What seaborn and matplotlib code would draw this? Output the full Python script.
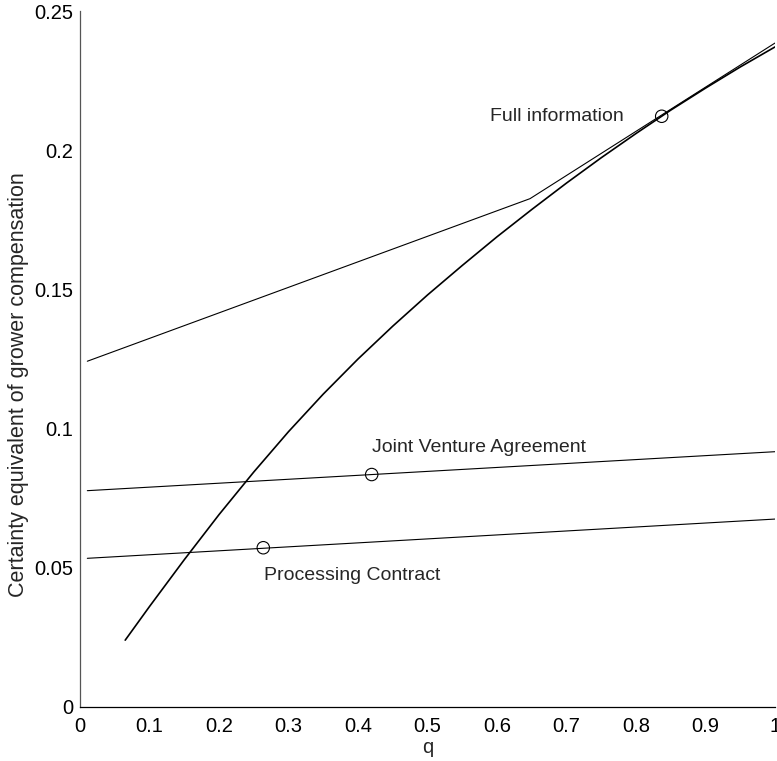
import numpy as np
import pandas as pd
import matplotlib
matplotlib.use("Agg")
import matplotlib.pyplot as plt
from matplotlib.ticker import FuncFormatter
import seaborn as sns

# values
q_full = [0.065, 0.10, 0.15, 0.20, 0.25, 0.30, 0.35, 0.40, 0.45, 0.50,
          0.55, 0.60, 0.65, 0.70, 0.75, 0.80, 0.85, 0.90, 0.95, 1.00]
ce_full = [0.0240, 0.0361, 0.0529, 0.0691, 0.0844, 0.0989, 0.1124, 0.1250,
           0.1368, 0.1480, 0.1586, 0.1689, 0.1787, 0.1882, 0.1973, 0.2060,
           0.2144, 0.2223, 0.2299, 0.2371]

q_kink = [0.0105, 0.6475, 1.0]
ce_kink = [0.1242, 0.1826, 0.2385]

q_jv = [0.0105, 1.0]
ce_jv = [0.0777, 0.0917]

q_pc = [0.0105, 1.0]
ce_pc = [0.0534, 0.0675]

mark_q = [0.837, 0.4197, 0.2637]
mark_ce = [0.2122, 0.0835, 0.0572]

labels = ["Full information", "Joint Venture Agreement", "Processing Contract"]
x_ticks = [0, 0.1, 0.2, 0.3, 0.4, 0.5, 0.6, 0.7, 0.8, 0.9, 1.0]
y_ticks = [0, 0.05, 0.1, 0.15, 0.2, 0.25]

sns.set_style("white")
plt.rcParams['font.family'] = ['Liberation Sans', 'DejaVu Sans']

fig = plt.figure(figsize=(7.77, 7.61), dpi=100)
ax = fig.add_axes([0.103, 0.071, 0.8944, 0.9145])

sns.lineplot(x=q_full, y=ce_full, color="black", linewidth=1.2, ax=ax)
sns.lineplot(x=q_kink, y=ce_kink, color="black", linewidth=0.8, ax=ax)
sns.lineplot(x=q_jv, y=ce_jv, color="black", linewidth=0.8, ax=ax)
sns.lineplot(x=q_pc, y=ce_pc, color="black", linewidth=0.8, ax=ax)

ax.scatter(mark_q, mark_ce, s=80, facecolors="none", edgecolors="black",
           linewidths=0.8, zorder=5)

# labels next to the circles
ax.text(0.783, 0.2122, labels[0], ha="right", va="center", fontsize=14)
ax.text(0.4197, 0.0933, labels[1], ha="left", va="center", fontsize=14)
ax.text(0.265, 0.0471, labels[2], ha="left", va="center", fontsize=14)

ax.set_xlim(0, 1)
ax.set_ylim(0, 0.25)
ax.set_xticks(x_ticks)
ax.set_yticks(y_ticks)
fmt = FuncFormatter(lambda v, p: "%g" % v)
ax.xaxis.set_major_formatter(fmt)
ax.yaxis.set_major_formatter(fmt)
ax.tick_params(direction="in", length=6, width=0.8, labelsize=14.5, colors="black")
ax.tick_params(axis="x", pad=7)
ax.tick_params(axis="y", pad=5)

ax.spines["top"].set_visible(False)
ax.spines["right"].set_visible(False)
ax.spines["left"].set_color("#555555")
ax.spines["bottom"].set_color("black")
ax.spines["left"].set_linewidth(0.9)
ax.spines["bottom"].set_linewidth(0.9)

ax.set_xlabel("q", fontsize=14.5)
ax.set_ylabel("Certainty equivalent of grower compensation", fontsize=15.5)
ax.xaxis.set_label_coords(0.5, -0.045)
ax.yaxis.set_label_coords(-0.074, 0.4626)

fig.savefig("out.png", dpi=100)
